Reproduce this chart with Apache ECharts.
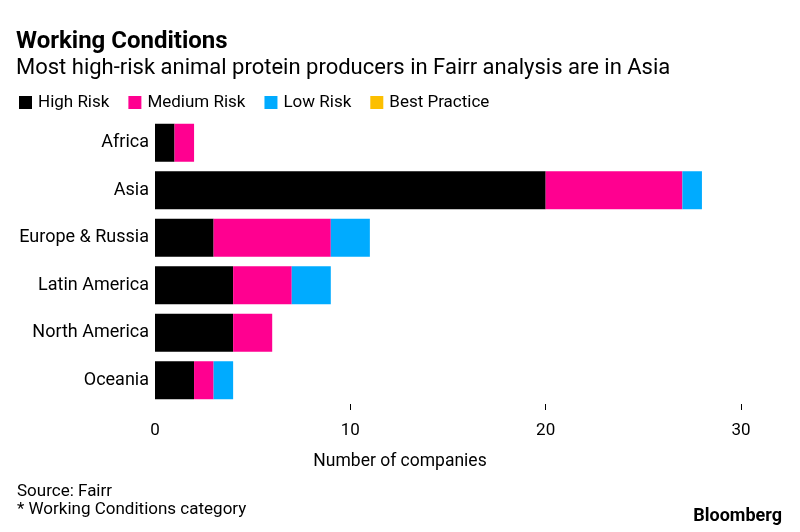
<!DOCTYPE html>
<html>
<head>
<meta charset="utf-8">
<script src="https://cdn.jsdelivr.net/npm/echarts@6/dist/echarts.min.js"></script>
<style>
html,body{margin:0;padding:0;background:#fff;}
#chart{width:800px;height:532px;}
</style>
</head>
<body>
<div id="chart"></div>
<script>
const categories = ['Africa', 'Asia', 'Europe & Russia', 'Latin America', 'North America', 'Oceania'];
const highRisk = [1, 20, 3, 4, 4, 2];
const mediumRisk = [1, 7, 6, 3, 2, 1];
const lowRisk = [0, 1, 2, 2, 0, 1];
const bestPractice = [0, 0, 0, 0, 0, 0];
const xTicks = [0, 10, 20, 30];

const FONT = 'Roboto, "Liberation Sans", sans-serif';
const chart = echarts.init(document.getElementById('chart'), null, {renderer: 'canvas'});

function bar(name, data, color) {
  return {
    name, type: 'bar', stack: 'total', data,
    itemStyle: {color},
    barCategoryGap: '20%',
    emphasis: {disabled: true}
  };
}

chart.setOption({
  animation: false,
  backgroundColor: '#fff',
  textStyle: {fontFamily: FONT},
  title: [
    {text: 'Working Conditions', left: 16, top: 30, padding: 0,
     textStyle: {fontFamily: FONT, fontSize: 24, fontWeight: 'bold', color: '#000'}},
    {text: 'Most high-risk animal protein producers in Fairr analysis are in Asia', left: 16, top: 57, padding: 0,
     textStyle: {fontFamily: FONT, fontSize: 22, fontWeight: 'normal', color: '#000'}},
    {text: 'Number of companies', left: 'center', top: 453, padding: 0,
     textStyle: {fontFamily: FONT, fontSize: 17.5, fontWeight: 'normal', color: '#000'}},
    {text: 'Source: Fairr', left: 17, top: 483, padding: 0,
     textStyle: {fontFamily: FONT, fontSize: 17, fontWeight: 'normal', color: '#000'}},
    {text: '* Working Conditions category', left: 17, top: 501, padding: 0,
     textStyle: {fontFamily: FONT, fontSize: 17, fontWeight: 'normal', color: '#000'}},
    {text: 'Bloomberg', right: 18, top: 507, padding: 0,
     textStyle: {fontFamily: FONT, fontSize: 18, fontWeight: 'bold', color: '#000', letterSpacing: -0.5}}
  ],
  legend: {
    left: 19, top: 94, padding: 0,
    icon: 'rect', itemWidth: 13, itemHeight: 13, itemGap: 19,
    textStyle: {fontFamily: FONT, fontSize: 17, color: '#000', padding: [0, 0, 0, 1]},
    selectedMode: false,
    data: ['High Risk', 'Medium Risk', 'Low Risk', 'Best Practice']
  },
  grid: {left: 155, right: 59, top: 119, bottom: 128, containLabel: false},
  xAxis: {
    type: 'value', min: 0, max: 30, interval: 10,
    axisLine: {show: false},
    axisTick: {show: true, customValues: xTicks.slice(1), length: 6, lineStyle: {color: '#000', width: 1}},
    axisLabel: {customValues: xTicks, margin: 18, fontFamily: FONT, fontSize: 17, color: '#000'},
    splitLine: {show: false}
  },
  yAxis: {
    type: 'category', data: categories, inverse: true,
    axisLine: {show: false}, axisTick: {show: false},
    axisLabel: {margin: 6, fontFamily: FONT, fontSize: 18, color: '#000'}
  },
  series: [
    bar('High Risk', highRisk, '#000000'),
    bar('Medium Risk', mediumRisk, '#ff0090'),
    bar('Low Risk', lowRisk, '#00abff'),
    bar('Best Practice', bestPractice, '#fcbf00')
  ]
});
</script>
</body>
</html>
